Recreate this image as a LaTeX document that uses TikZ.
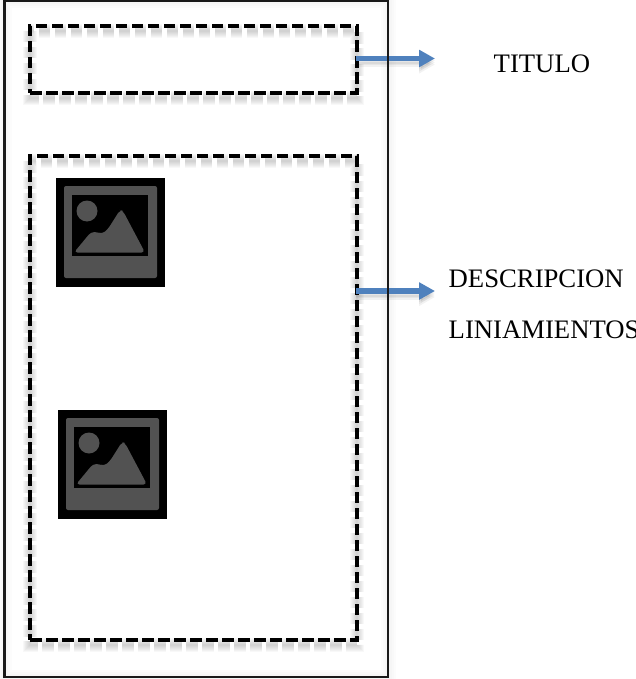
\documentclass[tikz,border=0pt]{standalone}
\usepackage{fontspec}
\setmainfont{Liberation Serif}
\usetikzlibrary{arrows.meta}
\definecolor{arrowblue}{HTML}{4F81BD}
\definecolor{icongray}{HTML}{525252}
\tikzset{
  x=1pt,y=-1pt,
  dashbox/.style={draw=black,line width=4pt,dash pattern=on 11.5pt off 4.5pt,inner sep=0pt,outer sep=0pt,minimum width=327pt,anchor=north west},
  shadowline/.style={line width=#1,draw=black,opacity=0.028,dash pattern=on 11.5pt off 4.5pt},
  framebox/.style={draw=black!90,line width=2.1pt},
  framefade/.style={draw=black,opacity=0.012,line width=#1},
  flow/.style={draw=arrowblue,line width=5.2pt,-{Triangle[length=16pt,width=16.5pt]}},
  flowshadow/.style={draw=black,opacity=0.05,line width=#1,-{Triangle[length=16pt,width=17pt]}},
  lbl/.style={font=\fontsize{26.7}{30}\selectfont,inner sep=0pt,anchor=base west},
  iconbg/.style={fill=black,draw=none,minimum size=109pt,inner sep=0pt,outer sep=0pt,anchor=north west},
  pics/photo/.style={code={
    \fill[icongray,rounded corners=2pt] (8,8) rectangle (101,100);
    \fill[black] (16,17) rectangle (92,78);
    \fill[icongray] (31,33) circle[radius=10.5];
    \fill[icongray,rounded corners=3.5pt] (18,74.5) -- (35,54) -- (41,54) -- (46,56) -- (52,51) -- (64,32) -- (67,33) -- (89,74.5) -- cycle;
  }}
}
\begin{document}
\begin{tikzpicture}
\useasboundingbox (0,0) rectangle (636,679);
% outer frame inner glow
\foreach \w in {3,7,11,15}{
  \draw[framefade=\w pt] (4.5,0.5) rectangle (388,677);
}
% soft shadows of the dashed boxes
\foreach \w in {2pt,4pt,6pt,8pt,10pt,12pt,14pt}{
  \draw[shadowline=\w] (30,31) rectangle (357,98);
  \draw[shadowline=\w] (30,161) rectangle (357,645);
}
\node[dashbox,minimum height=67pt] (titlebox) at (30,26) {};
\node[dashbox,minimum height=484pt] (bodybox) at (30,156) {};
\node[iconbg] (img1) at (56,178) {};
\pic[shift={(56,178)}] {photo};
\node[iconbg] (img2) at (58,410) {};
\pic[shift={(58,410)}] {photo};
\coordinate (tend) at (435,58.5);
\coordinate (dend) at (435,291);
\coordinate (tstart) at (356,58.5);
\coordinate (dstart) at (356,291);
\foreach \d/\w in {2/7pt,4/6pt,6/5pt}{
  \draw[flowshadow=\w] ([yshift=-\d pt]tstart) -- ([yshift=-\d pt]tend);
  \draw[flowshadow=\w] ([yshift=-\d pt]dstart) -- ([yshift=-\d pt]dend);
}
\draw[flow] (tstart) -- (tend);
\draw[flow] (dstart) -- (dend);
\draw[framebox] (4.5,0.5) rectangle (388,677);
\node[lbl] (titulo) at (493.5,73) {TITULO};
\node[lbl] (desc) at (448.5,287) {DESCRIPCION};
\node[lbl] (lini) at (448.5,338) {LINIAMIENTOS};
\end{tikzpicture}
\end{document}
